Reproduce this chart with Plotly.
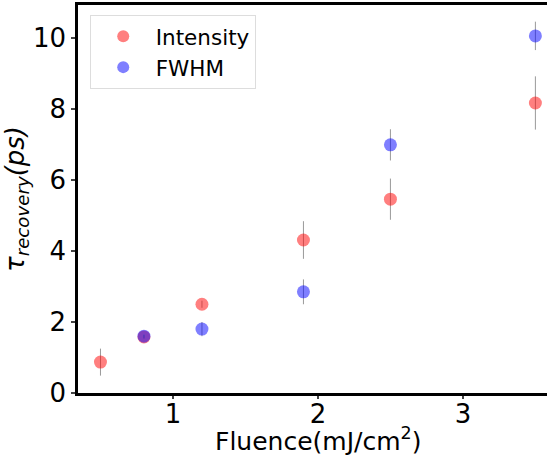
import plotly.graph_objects as go

fluence = [0.5, 0.8, 1.2, 1.9, 2.5, 3.5]
intensity = [0.87, 1.58, 2.5, 4.31, 5.46, 8.17]
intensity_err = [0.38, 0.05, 0.1, 0.53, 0.58, 0.75]
fwhm_x = [0.8, 1.2, 1.9, 2.5, 3.5]
fwhm = [1.6, 1.8, 2.85, 6.99, 10.06]
fwhm_err = [0.05, 0.2, 0.35, 0.44, 0.4]
x_title = "Fluence(mJ/cm<sup>2</sup>)"
y_title = "<i>τ<sub>recovery</sub>(ps)</i>"

fig = go.Figure()
fig.add_trace(go.Scatter(
    x=fluence, y=intensity, mode="markers", name="Intensity",
    marker=dict(color="rgba(255,0,0,0.5)", size=13, line=dict(width=0)),
    error_y=dict(type="data", array=intensity_err, color="rgba(128,128,128,0.8)", thickness=1, width=0),
))
fig.add_trace(go.Scatter(
    x=fwhm_x, y=fwhm, mode="markers", name="FWHM",
    marker=dict(color="rgba(0,0,255,0.5)", size=13, line=dict(width=0)),
    error_y=dict(type="data", array=fwhm_err, color="rgba(128,128,128,0.8)", thickness=1, width=0),
))

font = "DejaVu Sans"
fig.update_layout(
    width=547, height=460,
    margin=dict(l=78, r=0, t=5, b=67),
    plot_bgcolor="white", paper_bgcolor="white",
    font=dict(family=font, size=26, color="black"),
    showlegend=True,
    legend=dict(x=0.025, y=0.975, xanchor="left", yanchor="top",
                bgcolor="white", bordercolor="#dddddd", borderwidth=1,
                font=dict(size=21.5), itemsizing="constant", itemwidth=55),
    xaxis=dict(range=[0.345, 3.58], tickvals=[1, 2, 3], ticks="outside", ticklen=3, tickwidth=1.5,
               showline=True, linecolor="black", linewidth=2.5, mirror=True,
               showgrid=False, zeroline=False, automargin=False,
               tickfont=dict(size=26), ticklabelstandoff=-7),
    yaxis=dict(range=[0, 10.93], tickvals=[0, 2, 4, 6, 8, 10], ticks="outside", ticklen=4, tickwidth=1.5,
               showline=True, linecolor="black", linewidth=2.5,
               showgrid=False, zeroline=False, automargin=False,
               tickfont=dict(size=26),
               title=dict(text=y_title, font=dict(size=26), standoff=4)),
)
fig.add_annotation(text=x_title, xref="paper", yref="paper", x=0.512, y=0,
                   xanchor="center", yanchor="middle", yshift=-46, showarrow=False,
                   font=dict(size=25, family=font, color="black"))
fig.write_html("out.html", config={"displayModeBar": False},
               post_script="document.body.style.margin='0';")
